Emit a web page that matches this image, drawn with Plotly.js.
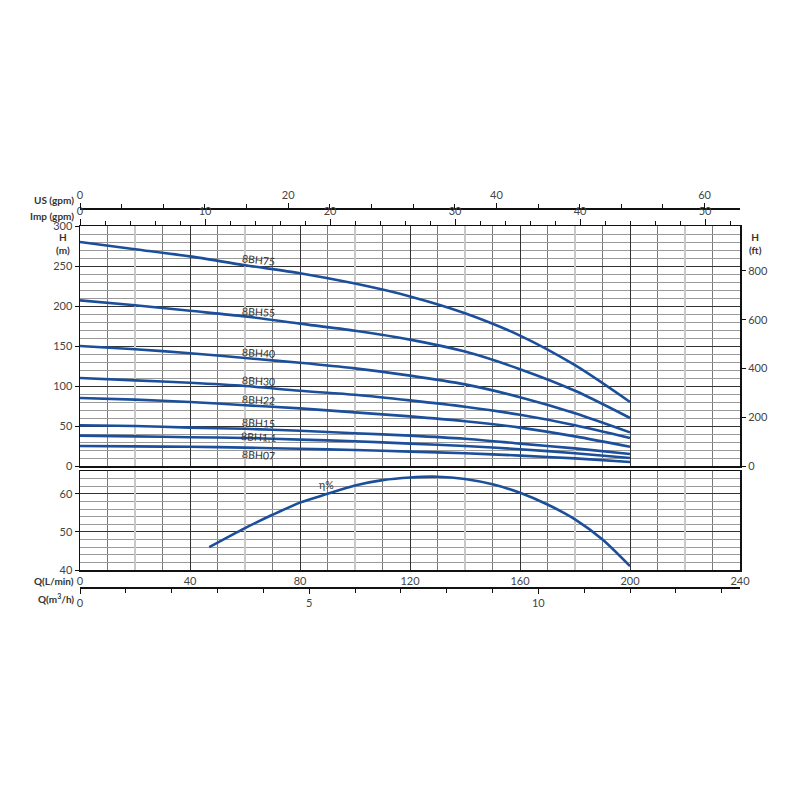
<!DOCTYPE html>
<html><head><meta charset="utf-8">
<script src="https://cdn.plot.ly/plotly-3.0.1.min.js"></script>
<style>body{margin:0;background:#fff}#chart{width:800px;height:800px}</style>
</head><body><div id="chart"></div>
<script>
// ---- data ----
const flowLmin = [0, 20, 40, 60, 80, 100, 120, 140, 160, 180, 200];
const head8BH75 = [280, 271, 262, 251, 241, 228, 212, 191, 163, 126, 80];
const head8BH55 = [207, 201, 194, 187, 178, 169, 158, 143, 121, 94, 60];
const head8BH40 = [150, 146, 141, 135, 129, 122, 113, 102, 86, 66, 42];
const head8BH30 = [110, 107, 104, 100, 94, 89, 82, 74, 64, 51, 35];
const head8BH22 = [85, 83, 80, 76, 72, 67, 62, 56, 48, 37, 24];
const head8BH15 = [51, 50, 48, 46.5, 44, 41, 38, 34, 28, 22, 15];
const head8BH11 = [38, 37, 36, 35, 33, 31, 28, 25, 21, 16, 10];
const head8BH07 = [25, 24.5, 24, 23, 21.5, 20, 18, 16, 13, 9.5, 5];
const modelNames = ['8BH75', '8BH55', '8BH40', '8BH30', '8BH22', '8BH15', '8BH1,1', '8BH07'];
const effFlow = [47, 60, 70, 80, 90, 100, 110, 120, 130, 140, 150, 160, 170, 180, 190, 200];
const effValues = [46, 51, 54.5, 57.7, 60, 62.2, 63.6, 64.3, 64.5, 63.9, 62.5, 60.3, 57.2, 53.3, 48, 41];
const effLabel = 'η%';
const qTicks = [0, 40, 80, 120, 160, 200, 240];
const qTens = [10, 30, 50, 70, 90, 110, 130, 150, 170, 190, 210, 230];
const qTwenties = [20, 60, 100, 140, 180, 220];
const hTicks = [0, 50, 100, 150, 200, 250, 300];
const ftTicks = [0, 200, 400, 600, 800];
const effTicks = [40, 50, 60];
// unit conversions for secondary axes
const LMIN_PER_IMPGPM = 4.54609, LMIN_PER_USGPM = 3.78541, LMIN_PER_M3H = 16.6667, M_PER_FT = 0.3048;

const heads = [head8BH75, head8BH55, head8BH40, head8BH30, head8BH22, head8BH15, head8BH11, head8BH07];
// label anchor positions (flow, head) just above each curve
const labelPos = [[65, 257], [65, 192], [65, 141], [65, 106.5], [65, 82.5], [65, 54], [65, 36.6], [65, 13.8]];

const blue = '#1b4f9c';
const font = 'Lato, "Open Sans", sans-serif';
const tickFont = {family: font, size: 11, color: '#444'};

const traces = heads.map((h, i) => ({
  x: flowLmin, y: h, xaxis: 'x', yaxis: 'y', mode: 'lines', name: modelNames[i],
  line: {color: blue, width: 2.6, shape: 'spline', smoothing: 0.8}, hoverinfo: 'skip'
}));
traces.push({x: effFlow, y: effValues, xaxis: 'x2', yaxis: 'y2', mode: 'lines', name: effLabel,
  line: {color: blue, width: 2.6, shape: 'spline', smoothing: 0.8}, hoverinfo: 'skip'});
// empty traces so that the helper axes exist
[['x3','y'],['x4','y'],['x5','y'],['x','y3'],['x6','y2'],['x7','y2']].forEach(p =>
  traces.push({x: [], y: [], xaxis: p[0], yaxis: p[1], mode: 'lines', hoverinfo: 'skip', showlegend: false}));

const dom = [0.1, 0.925];
const baseGridX = {
  domain: dom, range: [0, 240], tickvals: qTicks, showgrid: true, gridcolor: '#333', gridwidth: 1,
  minor: {tickvals: qTens, showgrid: true, gridcolor: '#7a7a7a', gridwidth: 1, ticks: ''},
  zeroline: false, showline: true, mirror: true, linecolor: '#111', linewidth: 1.5, ticks: ''
};
const twentyAxis = {range: [0, 240], tickvals: qTwenties, showticklabels: false,
  showgrid: true, gridcolor: '#c8c8c8', gridwidth: 2.4, zeroline: false, showline: false, ticks: ''};

const layout = {
  width: 800, height: 800, margin: {l: 0, r: 0, t: 0, b: 0},
  paper_bgcolor: '#fff', plot_bgcolor: '#fff', showlegend: false,
  font: {family: font, size: 11, color: '#444'},
  xaxis: Object.assign({}, baseGridX, {anchor: 'y', showticklabels: false}),
  xaxis3: Object.assign({overlaying: 'x', anchor: 'y'}, twentyAxis),
  xaxis4: {overlaying: 'x', anchor: 'y', side: 'top', range: [0, 240 / LMIN_PER_IMPGPM], dtick: 10, tick0: 0,
    ticks: 'outside', ticklen: 6, tickcolor: '#111', showgrid: false, zeroline: false, showline: false,
    minor: {dtick: 2, tick0: 0, ticks: 'outside', ticklen: 4, tickcolor: '#111', showgrid: false},
    tickfont: tickFont, ticklabelstandoff: 0},
  xaxis5: {overlaying: 'x', anchor: 'free', position: 0.74, side: 'top', range: [0, 240 / LMIN_PER_USGPM],
    dtick: 20, tick0: 0, ticks: 'outside', ticklen: 5, tickcolor: '#111', showgrid: false, zeroline: false,
    showline: true, linecolor: '#111', linewidth: 1.5,
    minor: {dtick: 4, tick0: 0, ticks: 'outside', ticklen: 4, tickcolor: '#111', showgrid: false},
    tickfont: tickFont},
  xaxis2: Object.assign({}, baseGridX, {anchor: 'y2', showticklabels: true, tickfont: tickFont}),
  xaxis6: Object.assign({overlaying: 'x2', anchor: 'y2'}, twentyAxis),
  xaxis7: {overlaying: 'x2', anchor: 'free', position: 0.266, side: 'bottom', range: [0, 240 / LMIN_PER_M3H],
    dtick: 5, tick0: 0, ticks: 'outside', ticklen: 5, tickcolor: '#111', showgrid: false, zeroline: false,
    showline: true, linecolor: '#111', linewidth: 1.5,
    minor: {dtick: 1, tick0: 0, ticks: 'outside', ticklen: 4, tickcolor: '#111', showgrid: false},
    tickfont: tickFont},
  yaxis: {domain: [0.4175, 0.7175], anchor: 'x', range: [0, 300], tickvals: hTicks, ticks: 'outside',
    ticklen: 4, tickcolor: '#111', showgrid: true, gridcolor: '#333', gridwidth: 1,
    minor: {dtick: 10, tick0: 0, showgrid: true, gridcolor: '#9a9a9a', gridwidth: 1},
    zeroline: false, showline: true, mirror: true, linecolor: '#111', linewidth: 1.5, tickfont: tickFont},
  yaxis3: {overlaying: 'y', anchor: 'x', side: 'right', range: [0, 300 / M_PER_FT], tickvals: ftTicks,
    ticks: 'outside', ticklen: 5, tickcolor: '#111', showgrid: false, zeroline: false, showline: false,
    tickfont: tickFont},
  yaxis2: {domain: [0.2875, 0.41125], anchor: 'x2', range: [40, 66], tickvals: effTicks, ticks: 'outside',
    ticklen: 4, tickcolor: '#111', showgrid: true, gridcolor: '#333', gridwidth: 1,
    minor: {dtick: 2, tick0: 40, showgrid: true, gridcolor: '#9a9a9a', gridwidth: 1},
    zeroline: false, showline: true, mirror: true, linecolor: '#111', linewidth: 1.5, tickfont: tickFont},
  annotations: []
};

const lab = {family: font, size: 10, color: '#333'};
function paperNote(text, px, py, anchor) {
  layout.annotations.push({text: text, xref: 'paper', yref: 'paper', x: px / 800, y: 1 - py / 800,
    xanchor: anchor, yanchor: 'middle', showarrow: false, font: lab});
}
paperNote('<b>US (gpm)</b>', 76, 200, 'right');
paperNote('<b>Imp (gpm)</b>', 76, 216, 'right');
paperNote('<b>H</b><br><b>(m)</b>', 63, 244, 'center');
paperNote('<b>H</b><br><b>(ft)</b>', 755, 244, 'center');
paperNote('<b>Q(L/min)</b>', 76, 581, 'right');
paperNote('<b>Q(m<sup>3</sup>/h)</b>', 76, 598, 'right');

modelNames.forEach((n, i) => layout.annotations.push({
  text: n, xref: 'x', yref: 'y', x: labelPos[i][0], y: labelPos[i][1], showarrow: false,
  xanchor: 'center', yanchor: 'middle', textangle: i === 0 ? 6 : 3, font: {family: font, size: 10.5, color: '#333'}
}));
layout.annotations.push({text: effLabel, xref: 'x2', yref: 'y2', x: 89.5, y: 62.3, showarrow: false,
  font: {family: font, size: 10.5, color: '#333'}});

Plotly.newPlot('chart', traces, layout, {staticPlot: true, displayModeBar: false});
</script>
</body></html>
